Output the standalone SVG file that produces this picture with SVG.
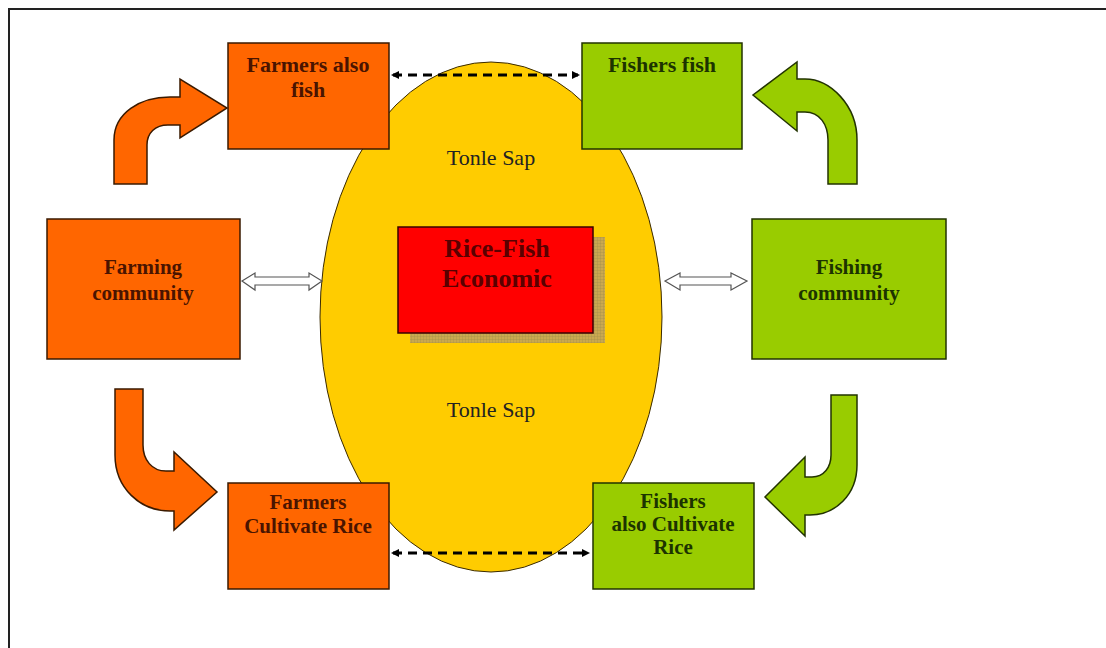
<svg xmlns="http://www.w3.org/2000/svg" width="1106" height="648" viewBox="0 0 1106 648">
<style>
.org{fill:#ff6600;stroke:#3a1a00;stroke-width:1.5}
.grn{fill:#99cc00;stroke:#223300;stroke-width:1.5}
.lbl{font-family:"Liberation Serif",serif;font-weight:bold;font-size:21px;text-anchor:middle}
.big{font-size:22px}
.lo{fill:#4a1400}
.lg{fill:#1c3300}
.ts{font-family:"Liberation Serif",serif;font-size:22px;text-anchor:middle;fill:#222}
.hol{fill:#ffffff;stroke:#555;stroke-width:1.2}
.dash{stroke:#000;stroke-width:3;stroke-dasharray:9,6;fill:none}
</style>
<defs>
<pattern id="grid" width="3" height="3" patternUnits="userSpaceOnUse">
<rect width="3" height="3" fill="#c9a850"/>
<path d="M0,0H3M0,0V3" stroke="#9a8a4a" stroke-width="0.6"/>
</pattern>
<marker id="ah" markerWidth="8" markerHeight="8" refX="6" refY="4" orient="auto-start-reverse" markerUnits="userSpaceOnUse">
<path d="M0,0 L8,4 L0,8 Z" fill="#000"/>
</marker>
</defs>
<rect width="1106" height="648" fill="#fff"/>
<path d="M9,648 V9 H1106" fill="none" stroke="#222" stroke-width="2"/>

<g id="lake">
<ellipse cx="491" cy="317" rx="171" ry="255" fill="#ffcc00" stroke="#3a2a00" stroke-width="1"/>
<text class="ts" x="491" y="165">Tonle Sap</text>
<text class="ts" x="491" y="417">Tonle Sap</text>
</g>

<g id="center">
<rect x="410" y="237" width="195" height="106" fill="url(#grid)"/>
<rect x="398" y="227" width="195" height="106" fill="#ff0000" stroke="#3a0000" stroke-width="1.5"/>
<text x="497" y="257" font-family="Liberation Serif,serif" font-weight="bold" font-size="26" text-anchor="middle" fill="#5a0000">Rice-Fish</text>
<text x="497" y="287" font-family="Liberation Serif,serif" font-weight="bold" font-size="26" text-anchor="middle" fill="#5a0000">Economic</text>
</g>

<g id="farmers-also-fish">
<rect class="org" x="228" y="43" width="161" height="106"/>
<text class="lbl big lo" x="308" y="72">Farmers also</text>
<text class="lbl big lo" x="308" y="97">fish</text>
</g>

<g id="fishers-fish">
<rect class="grn" x="582" y="43" width="160" height="106"/>
<text class="lbl big lg" x="662" y="72">Fishers fish</text>
</g>

<g id="farming-community">
<rect class="org" x="47" y="219" width="193" height="140"/>
<text class="lbl lo" x="143" y="274">Farming</text>
<text class="lbl lo" x="143" y="300">community</text>
</g>

<g id="fishing-community">
<rect class="grn" x="752" y="219" width="194" height="140"/>
<text class="lbl lg" x="849" y="274">Fishing</text>
<text class="lbl lg" x="849" y="300">community</text>
</g>

<g id="farmers-cultivate-rice">
<rect class="org" x="228" y="483" width="161" height="106"/>
<text class="lbl lo" x="308" y="509">Farmers</text>
<text class="lbl lo" x="308" y="533">Cultivate Rice</text>
</g>

<g id="fishers-cultivate-rice">
<rect class="grn" x="593" y="483" width="161" height="106"/>
<text class="lbl lg" x="673" y="508">Fishers</text>
<text class="lbl lg" x="673" y="531">also Cultivate</text>
<text class="lbl lg" x="673" y="554">Rice</text>
</g>

<g id="connectors">
<path class="org" d="M114,184 L114,140 C114,113 140,97 170,97 L180,97 L180,79 L227,108 L180,138 L180,125 L168,125 C155,125 147,133 147,145 L147,184 Z"/>
<path class="grn" d="M857,184 L857,140 C857,105 830,79 805,79 L797,79 L797,62 L753,95 L797,131 L797,112 L805,112 C820,112 828,125 828,140 L828,184 Z"/>
<path class="org" d="M115,389 L115,455 C115,488 140,511 170,511 L174,511 L174,530 L217,492 L174,452 L174,471 L166,471 C152,471 143,460 143,445 L143,389 Z"/>
<path class="grn" d="M857,395 L857,465 C857,495 835,515 810,515 L805,515 L805,536 L765,497 L805,457 L805,477 L812,477 C824,477 831,467 831,455 L831,395 Z"/>
<path class="hol" d="M242,281 L255,273 L255,277 L309,277 L309,273 L322,281 L309,290 L309,285 L255,285 L255,290 Z"/>
<path class="hol" d="M665,281 L680,273 L680,277 L731,277 L731,273 L747,281 L731,290 L731,285 L680,285 L680,290 Z"/>
<line class="dash" x1="393" y1="75" x2="578" y2="75" marker-start="url(#ah)" marker-end="url(#ah)"/>
<line class="dash" x1="393" y1="553" x2="588" y2="553" marker-start="url(#ah)" marker-end="url(#ah)"/>
</g>
</svg>
